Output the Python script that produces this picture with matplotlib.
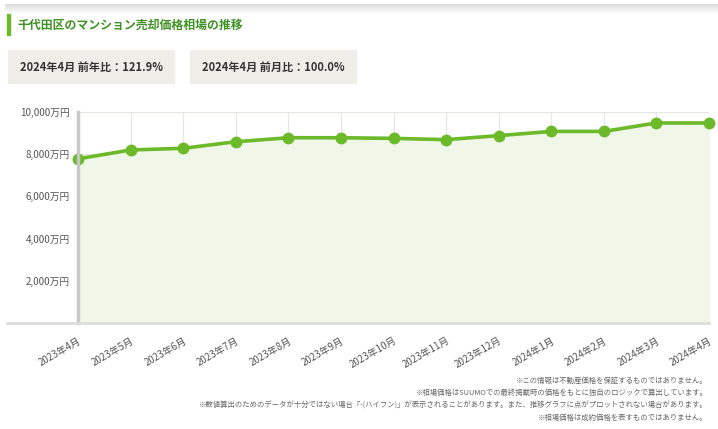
import numpy as np
import matplotlib
matplotlib.use('Agg')
import matplotlib.pyplot as plt
from matplotlib.lines import Line2D
from matplotlib.patches import Rectangle

plt.rcParams['font.family'] = ['Noto Sans CJK JP', 'DejaVu Sans']

# データ (万円)
months = ['2023年4月', '2023年5月', '2023年6月', '2023年7月', '2023年8月', '2023年9月',
          '2023年10月', '2023年11月', '2023年12月', '2024年1月', '2024年2月', '2024年3月',
          '2024年4月']
prices = [7780, 8200, 8280, 8590, 8780, 8780, 8750, 8690, 8880, 9080, 9080, 9480, 9480]
yticks = [2000, 4000, 6000, 8000, 10000]

title = '千代田区のマンション売却価格相場の推移'
box_labels = ['2024年4月 前年比：121.9%', '2024年4月 前月比：100.0%']
notes = [
    '※この情報は不動産価格を保証するものではありません。',
    '※相場価格はSUUMOでの最終掲載時の価格をもとに独自のロジックで算出しています。',
    '※数値算出のためのデータが十分ではない場合「-(ハイフン)」が表示されることがあります。また、推移グラフに点がプロットされない場合があります。',
    '※相場価格は成約価格を表すものではありません。',
]

W, H = 718, 429
green = '#6cb92a'
fig = plt.figure(figsize=(W / 100, H / 100), dpi=100)

def fx(px):
    return px / W

def fy(py):
    return 1 - py / H

# 上部のグラデーション線
grad = fig.add_axes([fx(5), fy(14), fx(713), 10 / H])
grad.imshow(np.linspace(0.86, 1.0, 20).reshape(-1, 1), cmap='gray', vmin=0, vmax=1,
            aspect='auto', extent=[0, 1, 0, 1])
grad.axis('off')

# タイトル
fig.patches.append(Rectangle((fx(7), fy(35)), fx(3), 21 / H, transform=fig.transFigure,
                             color=green, zorder=3))
fig.text(fx(18), fy(25), title, fontsize=8.6, fontweight='bold', color='#3f9224',
         va='center', ha='left')

# 前年比・前月比ボックス
for i, lab in enumerate(box_labels):
    x0 = 8 + i * 182
    fig.patches.append(Rectangle((fx(x0), fy(83)), fx(166), 33 / H,
                                 transform=fig.transFigure, color='#efeee8', zorder=1))
    fig.text(fx(x0 + 83), fy(67), lab, fontsize=8, fontweight='bold', color='#333333',
             ha='center', va='center')

# メインチャート
left, right, top, bottom = 78, 709, 112, 323
ax = fig.add_axes([fx(left), fy(bottom), fx(right - left), (bottom - top) / H])
x = np.arange(len(months))
ax.fill_between(x, prices, 0, color='#f0f7e8', zorder=1)
ax.plot(x, prices, color=green, lw=2.6, marker='o', ms=7.5, zorder=4, clip_on=False)
ax.set_xlim(0, len(months) - 1)
ax.set_ylim(0, 10000)
ax.set_yticks(yticks)
ax.set_yticklabels([f'{v:,}万円' for v in yticks], fontsize=7, color='#555555')
ax.set_xticks(x)
ax.set_xticklabels(months, rotation=30, ha='right', rotation_mode='anchor',
                   fontsize=7, color='#555555')
ax.tick_params(length=0, pad=6)
ax.tick_params(axis='x', pad=9)
ax.grid(True, color='#e4e8e0', lw=0.9, zorder=2)
ax.set_axisbelow(True)
for s in ['top', 'right', 'bottom']:
    ax.spines[s].set_visible(False)
ax.spines['left'].set_color('#c8c8c8')
ax.spines['left'].set_linewidth(2.5)
ax.spines['left'].set_zorder(5)

# 下の軸線
fig.add_artist(Line2D([fx(7), fx(right)], [fy(bottom), fy(bottom)], color='#dddddd',
                      lw=2, transform=fig.transFigure))

# 注記
for i, n in enumerate(notes):
    fig.text(fx(708), fy(381 + i * 12.2), n, fontsize=5.3, color='#666666',
             ha='right', va='center')

fig.savefig('out.png', dpi=100)
